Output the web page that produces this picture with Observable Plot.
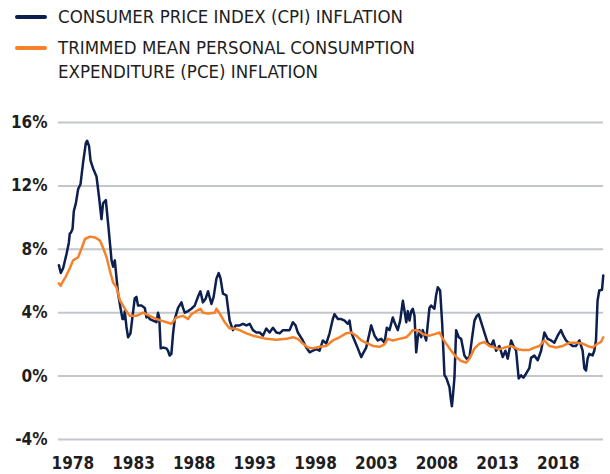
<!DOCTYPE html>
<html>
<head>
<meta charset="utf-8">
<script src="https://cdn.jsdelivr.net/npm/d3@7"></script>
<script src="https://cdn.jsdelivr.net/npm/@observablehq/plot@0.6"></script>
<style>
  html, body { margin: 0; padding: 0; background: #fff; }
  body { width: 610px; height: 474px; overflow: hidden; font-family: "Liberation Sans Narrow", "DejaVu Sans Condensed", Roboto, sans-serif; }
  #legend { position: relative; height: 95px; color: #1e1e1e; font-size: 18.5px; }
  .item { position: absolute; left: 15px; display: flex; align-items: flex-start; }
  .sw { width: 32px; height: 4px; border-radius: 2px; margin-right: 11px; flex: none; }
  .txt { line-height: 24px; }
</style>
</head>
<body>
<div id="legend"></div>
<div id="chart"></div>
<script>
const seriesNames = ["CONSUMER PRICE INDEX (CPI) INFLATION", "TRIMMED MEAN PERSONAL CONSUMPTION\nEXPENDITURE (PCE) INFLATION"];
const seriesColors = ["#0c1f4f", "#f5822a"];

const yTicks = [-4, 0, 4, 8, 12, 16];
const xTicks = [1978, 1983, 1988, 1993, 1998, 2003, 2008, 2013, 2018];

// CPI inflation (%), positions as decimal years
const cpiYears = [1976.85,1977.01,1977.20,1977.48,1977.67,1977.75,1977.84,1977.98,1978.08,1978.25,1978.44,1978.63,1978.85,1979.07,1979.18,1979.34,1979.46,1979.67,1979.95,1980.16,1980.36,1980.49,1980.72,1980.91,1981.19,1981.32,1981.46,1981.60,1981.73,1981.93,1982.09,1982.20,1982.28,1982.42,1982.55,1982.75,1982.91,1983.10,1983.24,1983.37,1983.65,1983.93,1984.07,1984.20,1984.34,1984.61,1984.89,1985.02,1985.12,1985.24,1985.43,1985.71,1985.84,1985.98,1986.12,1986.26,1986.40,1986.67,1986.95,1987.08,1987.22,1987.49,1987.77,1988.04,1988.31,1988.51,1988.72,1988.95,1989.14,1989.42,1989.60,1989.83,1990.02,1990.16,1990.37,1990.65,1990.92,1991.19,1991.42,1991.74,1992.02,1992.30,1992.57,1992.84,1993.12,1993.39,1993.66,1993.94,1994.21,1994.49,1994.77,1995.04,1995.31,1995.59,1995.86,1996.13,1996.35,1996.54,1996.95,1997.23,1997.51,1997.78,1998.06,1998.33,1998.60,1998.88,1999.15,1999.42,1999.56,1999.84,2000.12,2000.39,2000.66,2000.80,2000.94,2001.21,2001.48,2001.76,2001.89,2002.17,2002.44,2002.58,2002.86,2003.13,2003.41,2003.68,2003.87,2004.09,2004.36,2004.50,2004.77,2004.97,2005.19,2005.33,2005.47,2005.60,2005.74,2005.88,2006.01,2006.15,2006.29,2006.42,2006.56,2006.70,2006.83,2007.11,2007.38,2007.52,2007.79,2007.93,2008.07,2008.26,2008.43,2008.62,2008.76,2009.03,2009.15,2009.23,2009.32,2009.44,2009.58,2009.79,2009.99,2010.26,2010.45,2010.68,2010.90,2011.09,2011.28,2011.44,2011.64,2011.91,2012.18,2012.46,2012.65,2012.87,2013.14,2013.42,2013.64,2013.83,2014.11,2014.30,2014.52,2014.73,2014.93,2015.12,2015.34,2015.61,2015.75,2016.02,2016.30,2016.58,2016.85,2017.12,2017.40,2017.67,2017.94,2018.22,2018.41,2018.63,2018.91,2019.18,2019.46,2019.73,2020.00,2020.14,2020.28,2020.41,2020.55,2020.82,2020.96,2021.10,2021.23,2021.37,2021.60,2021.70];
const cpiValues = [7.0,6.5,6.8,7.7,8.4,9.0,9.05,9.3,10.4,10.9,11.8,12.1,13.5,14.7,14.85,14.5,13.6,13.1,12.6,11.3,9.9,10.9,11.1,9.6,7.3,6.9,7.3,6.2,5.2,4.3,3.6,3.6,4.1,3.1,2.45,2.7,3.7,4.9,5.0,4.45,4.45,4.3,3.7,3.8,3.6,3.5,3.4,4.0,3.7,1.75,1.8,1.75,1.6,1.3,1.4,2.7,3.6,4.3,4.65,4.3,4.0,4.1,4.25,4.45,5.0,5.35,4.65,4.9,5.35,4.55,5.0,6.15,6.5,6.2,5.2,5.1,3.5,2.9,3.2,3.2,3.3,3.2,3.3,2.9,2.75,2.75,2.55,3.0,2.75,3.05,2.75,2.7,2.9,2.9,2.9,3.4,3.2,2.75,2.25,1.8,1.5,1.6,1.7,1.6,2.25,2.05,2.7,3.6,3.9,3.6,3.6,3.5,3.3,3.5,2.75,2.25,1.75,1.2,1.4,1.8,2.7,3.2,2.55,2.25,2.35,2.1,3.05,2.9,3.7,3.4,2.9,3.5,4.75,4.1,3.4,4.1,3.5,4.1,4.25,3.8,1.5,2.45,2.9,2.45,2.9,2.25,4.3,4.45,4.25,5.1,5.6,5.4,3.3,0.05,-0.1,-0.7,-1.5,-1.9,-1.2,-0.1,2.9,2.45,2.35,1.3,1.1,1.2,2.45,3.5,3.8,3.9,3.4,2.75,2.1,1.9,2.25,1.6,1.9,1.2,1.6,1.1,2.25,1.9,1.6,-0.15,0.05,-0.1,0.15,0.5,1.15,1.3,1.0,1.6,2.75,2.35,2.25,2.1,2.55,2.9,2.55,2.25,2.05,1.9,1.9,2.25,1.6,0.5,0.35,1.1,1.4,1.3,1.6,2.25,4.75,5.4,5.45,6.35];

// Trimmed mean PCE inflation (%)
const pceYears = [1976.85,1977.01,1977.20,1977.40,1977.75,1978.02,1978.44,1978.72,1979.00,1979.42,1979.83,1980.24,1980.49,1980.78,1981.05,1981.32,1981.60,1981.87,1982.28,1982.69,1983.24,1983.79,1984.34,1984.89,1985.30,1985.71,1986.12,1986.53,1987.08,1987.49,1987.77,1988.18,1988.51,1988.72,1989.14,1989.69,1989.83,1990.10,1990.51,1990.92,1991.33,1991.74,1992.30,1992.84,1993.39,1993.94,1994.77,1995.59,1996.13,1996.54,1996.95,1997.37,1997.78,1998.33,1998.88,1999.42,1999.97,2000.52,2000.94,2001.35,2001.76,2002.17,2002.72,2003.27,2003.68,2003.95,2004.36,2004.91,2005.47,2005.74,2006.01,2006.42,2006.83,2007.38,2007.79,2008.21,2008.48,2008.76,2009.17,2009.58,2009.99,2010.40,2010.68,2011.09,2011.50,2011.91,2012.32,2012.73,2013.14,2013.56,2014.11,2014.66,2015.07,2015.61,2016.02,2016.44,2016.85,2017.26,2017.81,2018.36,2018.91,2019.46,2020.00,2020.41,2020.82,2021.23,2021.51,2021.70];
const pceValues = [5.85,5.7,6.0,6.25,6.8,7.3,7.5,8.05,8.65,8.8,8.75,8.55,8.1,7.5,6.65,5.9,5.6,4.8,4.25,3.8,3.8,4.0,3.8,3.6,3.5,3.4,3.3,3.7,3.8,3.6,3.9,4.1,4.25,4.0,3.95,4.0,4.25,3.95,3.4,3.0,3.0,2.9,2.7,2.55,2.45,2.35,2.3,2.35,2.45,2.35,2.05,1.8,1.75,1.85,1.9,2.25,2.45,2.7,2.75,2.55,2.25,2.1,1.9,1.85,2.0,2.35,2.25,2.35,2.45,2.65,2.9,2.9,2.65,2.55,2.65,2.75,2.35,2.05,1.6,1.2,0.95,0.85,1.1,1.75,2.05,2.15,1.9,1.8,1.7,1.8,1.9,1.7,1.65,1.65,1.8,1.9,2.25,1.9,1.8,1.9,2.1,2.1,2.05,1.9,1.8,2.05,2.15,2.45];

const cpi = cpiYears.map((t, i) => ({t, v: cpiValues[i]}));
const pce = pceYears.map((t, i) => ({t, v: pceValues[i]}));

// legend
const legend = document.getElementById("legend");
seriesNames.forEach((name, i) => {
  const item = document.createElement("div");
  item.className = "item";
  item.style.top = i === 0 ? "5px" : "36px";
  const sw = document.createElement("div");
  sw.className = "sw";
  sw.style.background = seriesColors[i];
  sw.style.marginTop = "10px";
  const tx = document.createElement("div");
  tx.className = "txt";
  name.split("\n").forEach((line, j) => {
    if (j) tx.appendChild(document.createElement("br"));
    tx.appendChild(document.createTextNode(line));
  });
  item.appendChild(sw);
  item.appendChild(tx);
  legend.appendChild(item);
});

const chart = Plot.plot({
  width: 610,
  height: 379,
  marginLeft: 58,
  marginRight: 7,
  marginTop: 27,
  marginBottom: 35,
  style: {fontFamily: '"Liberation Sans Narrow", "DejaVu Sans Condensed", Roboto, sans-serif', fontSize: "17px", color: "#1e1e1e", background: "#fff"},
  x: {domain: [1976.82, 2021.72], ticks: xTicks, tickFormat: d => String(d), tickSize: 0, tickPadding: 17, label: null},
  y: {domain: [-4, 16], ticks: yTicks, tickFormat: d => d + "%", tickSize: 0, tickPadding: 11, label: null},
  marks: [
    Plot.ruleY(yTicks, {stroke: "#c3c7cb", strokeWidth: 2}),
    Plot.axisX({ticks: xTicks, tickFormat: d => String(d), tickSize: 0, tickPadding: 17, fontWeight: "bold", label: null}),
    Plot.axisY({ticks: yTicks, tickFormat: d => d + "%", tickSize: 0, tickPadding: 11, fontWeight: "bold", label: null}),
    Plot.line(cpi, {x: "t", y: "v", stroke: seriesColors[0], strokeWidth: 2.5, strokeLinejoin: "round"}),
    Plot.line(pce, {x: "t", y: "v", stroke: seriesColors[1], strokeWidth: 2.5, strokeLinejoin: "round"})
  ]
});
document.getElementById("chart").appendChild(chart);
</script>
</body>
</html>
